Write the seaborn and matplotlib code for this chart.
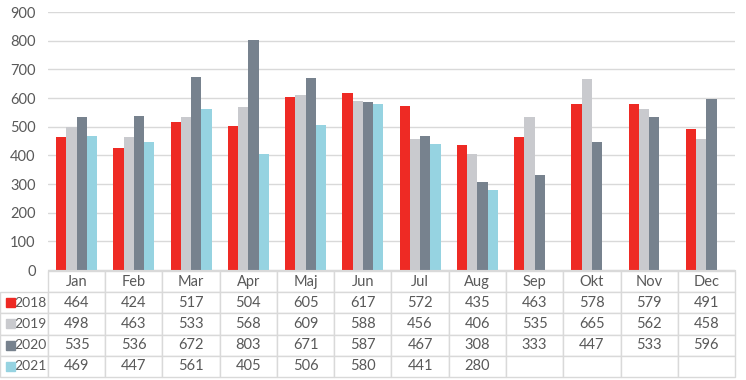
import pandas as pd
import numpy as np
import matplotlib
matplotlib.use("Agg")
import matplotlib.pyplot as plt
import seaborn as sns
from matplotlib.table import Table

# data
months = ["Jan", "Feb", "Mar", "Apr", "Maj", "Jun", "Jul", "Aug", "Sep", "Okt", "Nov", "Dec"]
years = ["2018", "2019", "2020", "2021"]
v2018 = [464, 424, 517, 504, 605, 617, 572, 435, 463, 578, 579, 491]
v2019 = [498, 463, 533, 568, 609, 588, 456, 406, 535, 665, 562, 458]
v2020 = [535, 536, 672, 803, 671, 587, 467, 308, 333, 447, 533, 596]
v2021 = [469, 447, 561, 405, 506, 580, 441, 280, None, None, None, None]
colors = ["#EE2A24", "#C9CACE", "#77828E", "#96D3E1"]

series = [v2018, v2019, v2020, v2021]
rows = []
for y, vals in zip(years, series):
    for m, v in zip(months, vals):
        rows.append({"month": m, "year": y, "value": np.nan if v is None else v})
df = pd.DataFrame(rows)

sns.set_style("white")
plt.rcParams["font.family"] = ["Lato", "DejaVu Sans"]
txt = "#595959"
grid = "#D9D9D9"

W, H = 746, 380
fig = plt.figure(figsize=(W / 100, H / 100), dpi=100)
ax_l, ax_r, ax_t, ax_b = 48, 735, 12, 270
ax = fig.add_axes([ax_l / W, (H - ax_b) / H, (ax_r - ax_l) / W, (ax_b - ax_t) / H])

sns.barplot(data=df, x="month", y="value", hue="year", order=months, hue_order=years,
            palette=colors, saturation=1, width=0.72, legend=False, ax=ax, linewidth=0)

ax.set_ylim(0, 900)
ax.set_yticks(range(0, 901, 100))
ax.set_xlim(-0.5, 11.5)
ax.yaxis.grid(True, color=grid, linewidth=1)
ax.set_axisbelow(True)
for s in ["top", "right", "left"]:
    ax.spines[s].set_visible(False)
ax.spines["bottom"].set_color(grid)
ax.set_xticks([])
ax.set_xlabel("")
ax.set_ylabel("")
ax.tick_params(axis="y", length=0, pad=9, labelsize=10.5, labelcolor=txt)

# data table under the plot
aw = ax_r - ax_l
ah = ax_b - ax_t
tbl = Table(ax, bbox=[-ax_l / aw, -(377 - ax_b) / ah, ax_r / aw, (377 - 271) / ah])
lab_w, col_w, row_h = 48, aw / 12, 1
cell = tbl.add_cell(0, 0, lab_w, row_h, text="")
cell.visible_edges = ""
for j, m in enumerate(months):
    tbl.add_cell(0, j + 1, col_w, row_h, text=m, loc="center")
for i, (y, vals) in enumerate(zip(years, series)):
    tbl.add_cell(i + 1, 0, lab_w, row_h, text=y, loc="right")
    for j, v in enumerate(vals):
        tbl.add_cell(i + 1, j + 1, col_w, row_h, text="" if v is None else str(v), loc="center")
tbl.auto_set_font_size(False)
tbl.set_fontsize(10.5)
for (r, c), cl in tbl.get_celld().items():
    cl.set_edgecolor(grid)
    cl.set_linewidth(1)
    cl.get_text().set_color(txt)
    if c == 0:
        cl.PAD = 0.02
        cl.get_text().set_fontsize(10)
ax.add_table(tbl)

# coloured legend keys in the row label column
for i, col in enumerate(colors):
    yc = 1 - (292 + 21.3 * i + 10.5) / H
    fig.patches.append(plt.Rectangle((6 / W, yc - 4.5 / H), 9 / W, 9 / H,
                                     transform=fig.transFigure, color=col))

fig.savefig("out.png", dpi=100)
